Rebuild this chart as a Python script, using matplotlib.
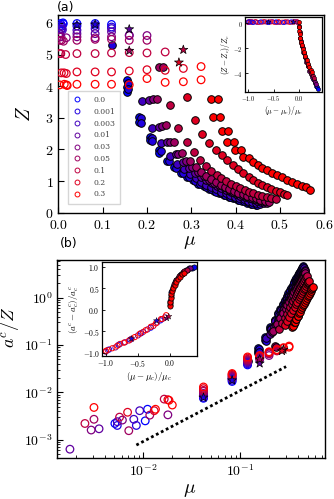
import numpy as np
import matplotlib
matplotlib.use("Agg")
import matplotlib.pyplot as plt
from matplotlib.lines import Line2D
from matplotlib.ticker import FuncFormatter, LogLocator, NullFormatter, FixedLocator

plt.rcParams["mathtext.fontset"] = "cm"
plt.rcParams["font.family"] = "serif"
plt.rcParams["font.serif"] = ["DejaVu Serif"]

labels = ["0.0", "0.001", "0.003", "0.01", "0.03", "0.05", "0.1", "0.2", "0.3"]

# --- filled points (after the transition): mu, Z, a^c/Z ---
mu_f_0 = [0.154, 0.154, 0.154, 0.183, 0.183, 0.207, 0.207, 0.228, 0.228, 0.246, 0.262, 0.277, 0.291, 0.304,
          0.316, 0.328, 0.34, 0.351, 0.362, 0.373, 0.384, 0.395, 0.405, 0.415, 0.425, 0.435, 0.445]
z_f_0 = [4.19, 3.98, 3.82, 3.03, 2.87, 2.40, 2.30, 1.98, 1.89, 1.63, 1.43, 1.27, 1.13, 1.02,
         0.92, 0.83, 0.75, 0.68, 0.62, 0.56, 0.50, 0.45, 0.41, 0.36, 0.32, 0.28, 0.24]
ac_f_0 = [0.087, 0.075, 0.068, 0.146, 0.128, 0.237, 0.215, 0.345, 0.32, 0.465, 0.59, 0.73, 0.89, 1.06,
          1.24, 1.43, 1.63, 1.85, 2.1, 2.36, 2.62, 2.95, 3.26, 3.56, 3.9, 4.3, 4.67]

mu_f_1 = [0.12, 0.158, 0.158, 0.187, 0.187, 0.211, 0.211, 0.232, 0.25, 0.266, 0.281, 0.295, 0.308,
          0.32, 0.332, 0.344, 0.355, 0.366, 0.377, 0.388, 0.398, 0.408, 0.418, 0.428, 0.438, 0.448]
z_f_1 = [5.3, 4.1, 3.9, 2.98, 2.83, 2.36, 2.26, 1.94, 1.62, 1.42, 1.26, 1.12, 1.01,
         0.91, 0.82, 0.74, 0.67, 0.61, 0.55, 0.5, 0.45, 0.41, 0.37, 0.33, 0.29, 0.25]
ac_f_1 = [0.045, 0.082, 0.072, 0.14, 0.122, 0.228, 0.205, 0.33, 0.45, 0.57, 0.71, 0.86, 1.03,
          1.2, 1.39, 1.6, 1.8, 2.04, 2.3, 2.57, 2.85, 3.15, 3.45, 3.8, 4.15, 4.5]

mu_f_2 = [0.188, 0.211, 0.232, 0.252, 0.268, 0.283, 0.297, 0.31, 0.322, 0.334, 0.345,
          0.356, 0.367, 0.378, 0.388, 0.398, 0.408, 0.418, 0.428, 0.438, 0.447, 0.455]
z_f_2 = [3.54, 2.67, 2.19, 1.8, 1.55, 1.37, 1.22, 1.09, 0.98, 0.89, 0.81,
         0.74, 0.67, 0.61, 0.55, 0.5, 0.46, 0.42, 0.37, 0.33, 0.3, 0.27]
ac_f_2 = [0.14, 0.218, 0.315, 0.43, 0.55, 0.68, 0.81, 0.96, 1.11, 1.28, 1.45,
          1.63, 1.84, 2.06, 2.28, 2.51, 2.76, 3.03, 3.32, 3.63, 3.93, 4.2]

mu_f_3 = [0.205, 0.226, 0.246, 0.265, 0.281, 0.295, 0.309, 0.322, 0.334, 0.346, 0.357,
          0.368, 0.379, 0.39, 0.4, 0.41, 0.42, 0.43, 0.44, 0.449, 0.457, 0.465]
z_f_3 = [3.57, 2.72, 2.22, 1.85, 1.6, 1.42, 1.27, 1.14, 1.03, 0.94, 0.86,
         0.78, 0.71, 0.65, 0.59, 0.54, 0.5, 0.46, 0.42, 0.38, 0.34, 0.3]
ac_f_3 = [0.17, 0.245, 0.34, 0.45, 0.56, 0.67, 0.8, 0.94, 1.08, 1.24, 1.39,
          1.56, 1.75, 1.94, 2.14, 2.35, 2.58, 2.82, 3.08, 3.31, 3.54, 3.8]

mu_f_4 = [0.214, 0.234, 0.253, 0.271, 0.288, 0.302, 0.315, 0.328, 0.34, 0.351, 0.362,
          0.373, 0.384, 0.394, 0.404, 0.414, 0.424, 0.434, 0.444, 0.453, 0.462, 0.47]
z_f_4 = [3.58, 2.74, 2.23, 1.87, 1.62, 1.44, 1.29, 1.16, 1.05, 0.95, 0.87,
         0.8, 0.73, 0.67, 0.61, 0.56, 0.52, 0.47, 0.43, 0.4, 0.36, 0.32]
ac_f_4 = [0.19, 0.265, 0.356, 0.46, 0.58, 0.69, 0.81, 0.94, 1.07, 1.21, 1.36,
          1.52, 1.69, 1.86, 2.05, 2.24, 2.45, 2.67, 2.92, 3.14, 3.37, 3.6]

mu_f_5 = [0.228, 0.236, 0.222, 0.242, 0.261, 0.279, 0.296, 0.31, 0.322, 0.334, 0.345, 0.356,
          0.366, 0.376, 0.386, 0.396, 0.406, 0.416, 0.426, 0.436, 0.446, 0.456, 0.466, 0.475]
z_f_5 = [4.61, 4.6, 3.59, 2.77, 2.24, 1.9, 1.64, 1.45, 1.3, 1.17, 1.06, 0.97,
         0.89, 0.82, 0.75, 0.69, 0.63, 0.58, 0.53, 0.49, 0.45, 0.41, 0.37, 0.34]
ac_f_5 = [0.095, 0.09, 0.2, 0.276, 0.366, 0.47, 0.585, 0.695, 0.8, 0.92, 1.04, 1.16,
          1.29, 1.43, 1.57, 1.73, 1.9, 2.08, 2.27, 2.48, 2.7, 2.93, 3.18, 3.4]

mu_f_6 = [0.252, 0.271, 0.290, 0.305, 0.320, 0.333, 0.345, 0.357, 0.368, 0.379, 0.39,
          0.40, 0.41, 0.42, 0.43, 0.44, 0.45, 0.46, 0.47, 0.48, 0.49]
z_f_6 = [3.40, 2.67, 2.24, 1.93, 1.66, 1.48, 1.33, 1.2, 1.09, 1.0, 0.92,
         0.85, 0.79, 0.73, 0.67, 0.62, 0.57, 0.53, 0.49, 0.45, 0.42]
ac_f_6 = [0.22, 0.29, 0.38, 0.46, 0.556, 0.65, 0.74, 0.85, 0.955, 1.07, 1.2,
          1.32, 1.45, 1.6, 1.75, 1.91, 2.08, 2.27, 2.47, 2.68, 2.9]

mu_f_7 = [0.291, 0.308, 0.325, 0.341, 0.356, 0.369, 0.38, 0.393, 0.406, 0.417,
          0.429, 0.44, 0.45, 0.46, 0.47, 0.48, 0.49, 0.5, 0.508, 0.515]
z_f_7 = [3.66, 2.93, 2.5, 2.21, 1.98, 1.82, 1.66, 1.51, 1.37, 1.25,
         1.13, 1.03, 0.95, 0.88, 0.81, 0.75, 0.69, 0.64, 0.59, 0.55]
ac_f_7 = [0.26, 0.323, 0.396, 0.476, 0.561, 0.644, 0.721, 0.82, 0.927, 1.03,
          1.15, 1.26, 1.37, 1.5, 1.62, 1.76, 1.9, 2.06, 2.18, 2.3]

mu_f_8 = [0.345, 0.36, 0.35, 0.365, 0.369, 0.383, 0.38, 0.397, 0.398, 0.412, 0.417, 0.429, 0.44,
          0.451, 0.459, 0.47, 0.481, 0.493, 0.504, 0.515, 0.526, 0.538, 0.549, 0.558, 0.567]
z_f_8 = [3.58, 3.58, 3.01, 3.01, 2.57, 2.57, 2.23, 2.23, 1.99, 1.99, 1.77, 1.72, 1.61,
         1.51, 1.40, 1.35, 1.26, 1.19, 1.12, 1.04, 0.98, 0.91, 0.84, 0.8, 0.72]
ac_f_8 = [0.24, 0.284, 0.254, 0.30, 0.313, 0.362, 0.35, 0.417, 0.42, 0.482, 0.506, 0.566, 0.625,
          0.69, 0.74, 0.81, 0.89, 0.98, 1.07, 1.16, 1.26, 1.38, 1.5, 1.6, 1.7]

# --- open points (before the transition) ---
mu_o_0 = [0.0051, 0.0105, 0.0111, 0.042, 0.083, 0.12]
z_o_0 = [5.98, 6.0, 5.97, 5.98, 5.98, 5.95]
ac_o_0 = [2.2e-3, 2.5e-3, 4.4e-3, 0.0075, 0.017, 0.038]
mu_o_1 = [0.0054, 0.0085, 0.042, 0.083, 0.12]
z_o_1 = [5.92, 5.9, 5.9, 5.92, 5.87]
ac_o_1 = [2.0e-3, 2.0e-3, 0.0078, 0.018, 0.04]
mu_o_2 = [0.0054, 0.008, 0.0092, 0.042, 0.083, 0.12]
z_o_2 = [5.8, 5.82, 5.78, 5.77, 5.82, 5.82]
ac_o_2 = [2.4e-3, 2.7e-3, 4.1e-3, 0.0085, 0.019, 0.042]
mu_o_3 = [0.00175, 0.0035, 0.042, 0.083, 0.12, 0.16]
z_o_3 = [5.66, 5.66, 5.66, 5.66, 5.72, 5.61]
ac_o_3 = [6.3e-4, 1.7e-3, 0.009, 0.02, 0.044, 0.05]
mu_o_4 = [0.0029, 0.0061, 0.018, 0.042, 0.083, 0.12, 0.16, 0.2]
z_o_4 = [5.56, 5.56, 5.53, 5.56, 5.53, 5.56, 5.6, 5.6]
ac_o_4 = [1.6e-3, 2.6e-3, 3.35e-3, 0.0095, 0.021, 0.046, 0.052, 0.06]
mu_o_5 = [0.0031, 0.0071, 0.0117, 0.042, 0.083, 0.12, 0.16, 0.2]
z_o_5 = [5.45, 5.45, 5.42, 5.45, 5.48, 5.48, 5.45, 5.45]
ac_o_5 = [2.7e-3, 1.55e-3, 3.3e-3, 0.0105, 0.022, 0.048, 0.054, 0.065]
mu_o_6 = [0.0025, 0.0057, 0.0165, 0.042, 0.083, 0.12, 0.16, 0.2, 0.241]
z_o_6 = [5.03, 5.03, 5.0, 5.03, 5.03, 5.05, 5.06, 5.05, 5.08]
ac_o_6 = [2.2e-3, 3.0e-3, 7.2e-3, 0.011, 0.023, 0.05, 0.056, 0.068, 0.075]
mu_o_7 = [0.0069, 0.013, 0.018, 0.042, 0.083, 0.12, 0.16, 0.2, 0.241, 0.282]
z_o_7 = [4.42, 4.42, 4.4, 4.45, 4.45, 4.45, 4.48, 4.52, 4.5, 4.56]
ac_o_7 = [3.8e-3, 4.1e-3, 7.0e-3, 0.012, 0.024, 0.053, 0.058, 0.07, 0.078, 0.085]
mu_o_8 = [0.0031, 0.0134, 0.0185, 0.02, 0.042, 0.083, 0.12, 0.16, 0.2, 0.241, 0.282, 0.322, 0.322]
z_o_8 = [4.04, 4.06, 4.04, 4.02, 4.06, 4.06, 4.06, 4.04, 4.24, 4.12, 4.14, 4.2, 4.62]
ac_o_8 = [4.8e-3, 4.4e-3, 6.8e-3, 5.4e-3, 0.013, 0.025, 0.056, 0.06, 0.072, 0.08, 0.088, 0.09, 0.095]

# stars
star_mu = [0.042, 0.083, 0.16, 0.16, 0.282, 0.272]
star_z = [5.93, 5.95, 5.8, 5.12, 5.15, 4.75]
star_ac = [0.0078, 0.018, 0.041, 0.05, 0.08, 0.075]
star_series = [1, 1, 3, 5, 6, 7]

# guide line in (b)
guide_mu = [0.0085, 0.30]
guide_ac = [7.7e-4, 0.035]

# --- inset (a) ---
ia_open_x = {0: [-0.98, -0.9, -0.75, -0.6, -0.45, -0.3, -0.15],
             4: [-1.0, -0.93, -0.82, -0.66, -0.52, -0.38, -0.22, -0.08, -0.02],
             6: [-0.99, -0.95, -0.86, -0.72, -0.58, -0.43, -0.28, -0.12, -0.04],
             8: [-1.0, -0.96, -0.91, -0.84, -0.78, -0.69, -0.62, -0.55, -0.48, -0.4, -0.33, -0.25, -0.18, -0.1, -0.03]}
ia_open_y = {0: [0.1, 0.05, 0.1, 0.05, 0.1, 0.05, 0.1],
             4: [0.08, 0.12, 0.06, 0.1, 0.12, 0.06, 0.1, 0.12, 0.05],
             6: [0.1, 0.06, 0.12, 0.08, 0.1, 0.06, 0.1, 0.08, 0.12],
             8: [0.06, 0.12, 0.08, 0.1, 0.06, 0.12, 0.08, 0.1, 0.06, 0.12, 0.08, 0.1, 0.06, 0.1, 0.08]}
ia_fill_x = {0: [0.02, 0.05, 0.09, 0.13, 0.17, 0.21, 0.25, 0.28, 0.31, 0.33, 0.35, 0.365],
             4: [0.0, 0.01, 0.03, 0.05, 0.08, 0.11, 0.14, 0.17, 0.2, 0.23, 0.26, 0.29, 0.31, 0.33],
             6: [0.0, 0.01, 0.025, 0.045, 0.07, 0.095, 0.12, 0.15, 0.18, 0.21, 0.24, 0.27, 0.29],
             8: [0.0, 0.003, 0.008, 0.015, 0.025, 0.04, 0.055, 0.075, 0.1, 0.125, 0.15, 0.175, 0.2, 0.225, 0.25]}
ia_fill_y = {0: [-1.2, -1.8, -2.4, -2.9, -3.35, -3.75, -4.15, -4.5, -4.8, -5.0, -5.15, -5.3],
             4: [-0.3, -0.8, -1.4, -1.8, -2.3, -2.7, -3.1, -3.45, -3.8, -4.1, -4.35, -4.55, -4.7, -4.85],
             6: [-0.2, -0.7, -1.2, -1.6, -2.0, -2.4, -2.75, -3.1, -3.45, -3.75, -4.0, -4.25, -4.4],
             8: [0.1, -0.3, -0.6, -0.9, -1.2, -1.5, -1.75, -2.05, -2.35, -2.65, -2.95, -3.25, -3.5, -3.75, -3.95]}
ia_star_x = [-0.6, -0.11]
ia_star_y = [0.08, 0.08]

# --- inset (b) ---
ib_open_x = {0: [-0.95, -0.8, -0.62, -0.45, -0.3, -0.15],
             4: [-1.0, -0.85, -0.7, -0.5, -0.35, -0.2, -0.08],
             6: [-0.97, -0.78, -0.6, -0.42, -0.26, -0.12],
             8: [-1.0, -0.9, -0.82, -0.72, -0.64, -0.55, -0.47, -0.38, -0.3, -0.22, -0.14, -0.06]}
ib_open_y = {0: [-0.93, -0.82, -0.7, -0.55, -0.42, -0.25],
             4: [-0.98, -0.88, -0.76, -0.6, -0.46, -0.3, -0.18],
             6: [-0.94, -0.8, -0.68, -0.52, -0.38, -0.22],
             8: [-0.96, -0.9, -0.84, -0.77, -0.72, -0.64, -0.56, -0.48, -0.4, -0.32, -0.22, -0.13]}
ib_fill_x = {0: [0.0, 0.02, 0.06, 0.1, 0.15, 0.2, 0.25, 0.3, 0.34, 0.37],
             4: [0.0, 0.01, 0.04, 0.08, 0.12, 0.17, 0.22, 0.27, 0.31],
             6: [0.0, 0.01, 0.03, 0.06, 0.1, 0.14, 0.18, 0.22, 0.26],
             8: [0.0, 0.005, 0.01, 0.02, 0.035, 0.05, 0.07, 0.09, 0.12, 0.15, 0.18, 0.21]}
ib_fill_y = {0: [0.2, 0.4, 0.58, 0.7, 0.8, 0.87, 0.92, 0.96, 0.98, 1.0],
             4: [0.15, 0.35, 0.52, 0.64, 0.74, 0.82, 0.88, 0.93, 0.96],
             6: [0.1, 0.3, 0.46, 0.6, 0.7, 0.78, 0.84, 0.89, 0.93],
             8: [0.08, 0.18, 0.27, 0.36, 0.44, 0.51, 0.58, 0.64, 0.71, 0.77, 0.82, 0.86]}
ib_star_x = [-0.6, -0.21, -0.05, -0.02]
ib_star_y = [-0.68, -0.26, -0.2, -0.16]
ib_star_series = [1, 1, 4, 6]

mu_f = [mu_f_0, mu_f_1, mu_f_2, mu_f_3, mu_f_4, mu_f_5, mu_f_6, mu_f_7, mu_f_8]
z_f = [z_f_0, z_f_1, z_f_2, z_f_3, z_f_4, z_f_5, z_f_6, z_f_7, z_f_8]
ac_f = [ac_f_0, ac_f_1, ac_f_2, ac_f_3, ac_f_4, ac_f_5, ac_f_6, ac_f_7, ac_f_8]
mu_o = [mu_o_0, mu_o_1, mu_o_2, mu_o_3, mu_o_4, mu_o_5, mu_o_6, mu_o_7, mu_o_8]
z_o = [z_o_0, z_o_1, z_o_2, z_o_3, z_o_4, z_o_5, z_o_6, z_o_7, z_o_8]
ac_o = [ac_o_0, ac_o_1, ac_o_2, ac_o_3, ac_o_4, ac_o_5, ac_o_6, ac_o_7, ac_o_8]

colors = [(i / 8, 0.0, 1 - i / 8) for i in range(9)]

fig = plt.figure(figsize=(3.34, 4.99), dpi=100)
ax_a = fig.add_axes([0.1746, 0.5737, 0.7964, 0.3963])
ax_b = fig.add_axes([0.172, 0.0816, 0.801, 0.3974])

S_OPEN, S_FILL, S_STAR = 30, 30, 45

for i in range(9):
    c = colors[i]
    ax_a.scatter(mu_f[i], z_f[i], s=S_FILL, facecolor=c, edgecolor="black", linewidths=0.7, zorder=3)
    ax_a.scatter(mu_o[i], z_o[i], s=S_OPEN, facecolor="none", edgecolor=c, linewidths=0.9, zorder=3)
    ax_b.scatter(mu_f[i], ac_f[i], s=S_FILL, facecolor=c, edgecolor="black", linewidths=0.7, zorder=3)
    ax_b.scatter(mu_o[i], ac_o[i], s=S_OPEN, facecolor="none", edgecolor=c, linewidths=0.9, zorder=3)

star_cols = [colors[k] for k in star_series]
ax_a.scatter(star_mu, star_z, s=S_STAR, marker="*", c=star_cols, edgecolors="black", linewidths=0.5, zorder=4)
ax_b.scatter(star_mu, star_ac, s=S_STAR, marker="*", c=star_cols, edgecolors="black", linewidths=0.5, zorder=4)
ax_b.plot(guide_mu, guide_ac, color="black", lw=2.0, linestyle=(0, (1, 1)), zorder=2)

# panel (a) axes
ax_a.set_xlim(0, 0.6)
ax_a.set_ylim(0, 6.25)
ax_a.set_xticks([0, 0.1, 0.2, 0.3, 0.4, 0.5, 0.6])
ax_a.set_yticks([0, 1, 2, 3, 4, 5, 6])
ax_a.xaxis.set_major_formatter(FuncFormatter(lambda v, _: f"${v:.1f}$"))
ax_a.yaxis.set_major_formatter(FuncFormatter(lambda v, _: f"${v:.0f}$"))
ax_a.set_xlabel(r"$\mu$", fontsize=14)
ax_a.set_ylabel(r"$Z$", fontsize=14)
ax_a.xaxis.set_label_coords(0.495, -0.105)
ax_a.yaxis.set_label_coords(-0.09, 0.5)

handles = [Line2D([], [], marker="o", ls="none", mfc="none", mec=colors[i], ms=3.5, mew=0.7) for i in range(9)]
leg = ax_a.legend(handles, labels, loc="lower left", bbox_to_anchor=(0.036, 0.045), borderaxespad=0,
                  fontsize=5.5, labelspacing=0.5, handletextpad=1.6, borderpad=0.7, frameon=True,
                  fancybox=False, edgecolor="#cccccc", handlelength=1.0)
for t in leg.get_texts():
    t.set_color("#444444")

# panel (b) axes
ax_b.set_xscale("log")
ax_b.set_yscale("log")
ax_b.set_xlim(1.3e-3, 0.757)
ax_b.set_ylim(4.05e-4, 6.26)
ax_b.xaxis.set_major_locator(FixedLocator([1e-2, 1e-1]))
ax_b.yaxis.set_major_locator(FixedLocator([1e-3, 1e-2, 1e-1, 1e0]))
ax_b.xaxis.set_minor_locator(LogLocator(base=10, subs=np.arange(2, 10)))
ax_b.yaxis.set_minor_locator(LogLocator(base=10, subs=np.arange(2, 10)))
ax_b.xaxis.set_minor_formatter(NullFormatter())
ax_b.yaxis.set_minor_formatter(NullFormatter())
logfmt = FuncFormatter(lambda v, _: "$10^{%d}$" % int(round(np.log10(v))))
ax_b.xaxis.set_major_formatter(logfmt)
ax_b.yaxis.set_major_formatter(logfmt)
ax_b.set_xlabel(r"$\mu$", fontsize=14)
ax_b.set_ylabel(r"$a^c/Z$", fontsize=13)
ax_b.xaxis.set_label_coords(0.495, -0.115)
ax_b.yaxis.set_label_coords(-0.135, 0.66)

for ax in (ax_a, ax_b):
    ax.tick_params(which="major", direction="in", length=4, width=0.8, labelsize=10)
    ax.tick_params(which="minor", direction="in", length=2, width=0.6)
    for sp in ax.spines.values():
        sp.set_linewidth(1.0)

# inset (a)
ins_a = fig.add_axes([0.7335, 0.8156, 0.2305, 0.150])
for i in (8, 6, 4, 0):
    ins_a.scatter(ia_open_x[i], ia_open_y[i], s=9, facecolor="none", edgecolor=colors[i], linewidths=0.6)
for i in (0, 4, 6, 8):
    ins_a.scatter(ia_fill_x[i], ia_fill_y[i], s=9, facecolor=colors[i], edgecolor="black", linewidths=0.4)
ins_a.scatter(ia_star_x, ia_star_y, s=14, marker="*", c=[colors[1], colors[1]], edgecolors="black", linewidths=0.3, zorder=4)
ins_a.set_xlim(-1.06, 0.45)
ins_a.set_ylim(-5.52, 0.48)
ins_a.set_xticks([-1.0, -0.5, 0.0])
ins_a.set_yticks([0, -2, -4])
ins_a.xaxis.set_major_formatter(FuncFormatter(lambda v, _: f"${v:.1f}$"))
ins_a.yaxis.set_major_formatter(FuncFormatter(lambda v, _: f"${v:.0f}$"))
ins_a.set_xlabel(r"$(\mu-\mu_c)/\mu_c$", fontsize=5.5, labelpad=1)
ins_a.set_ylabel(r"$(Z-Z_c)/Z_c$", fontsize=5.5, labelpad=1)

# inset (b)
ins_b = fig.add_axes([0.3054, 0.2866, 0.2844, 0.1884])
for i in (0, 4, 6, 8):
    ins_b.scatter(ib_open_x[i], ib_open_y[i], s=14, facecolor="none", edgecolor=colors[i], linewidths=0.7)
for i in (0, 4, 6, 8):
    ins_b.scatter(ib_fill_x[i], ib_fill_y[i], s=14, facecolor=colors[i], edgecolor="black", linewidths=0.5)
ins_b.scatter(ib_star_x, ib_star_y, s=22, marker="*", c=[colors[k] for k in ib_star_series],
              edgecolors="black", linewidths=0.3, zorder=4)
ins_b.set_xlim(-1.06, 0.42)
ins_b.set_ylim(-1.08, 1.11)
ins_b.set_xticks([-1.0, -0.5, 0.0])
ins_b.set_yticks([-1.0, -0.5, 0.0, 0.5, 1.0])
ins_b.xaxis.set_major_formatter(FuncFormatter(lambda v, _: f"${v:.1f}$"))
ins_b.yaxis.set_major_formatter(FuncFormatter(lambda v, _: f"${v:.1f}$"))
ins_b.set_xlabel(r"$(\mu-\mu_c)/\mu_c$", fontsize=6.5, labelpad=1)
ins_b.set_ylabel(r"$(a^c-a^c_c)/a^c_c$", fontsize=6.5, labelpad=1)

for ax in (ins_a, ins_b):
    ax.tick_params(direction="in", length=2, width=0.6, labelsize=4.5, pad=1.5)
    for sp in ax.spines.values():
        sp.set_linewidth(0.9)
ins_b.tick_params(labelsize=5.5)

fig.text(0.171, 0.998, "(a)", fontsize=9, family="DejaVu Sans", va="top", ha="left")
fig.text(0.178, 0.513, "(b)", fontsize=9, family="DejaVu Sans", va="center", ha="left")

fig.savefig("out.png", dpi=100)
